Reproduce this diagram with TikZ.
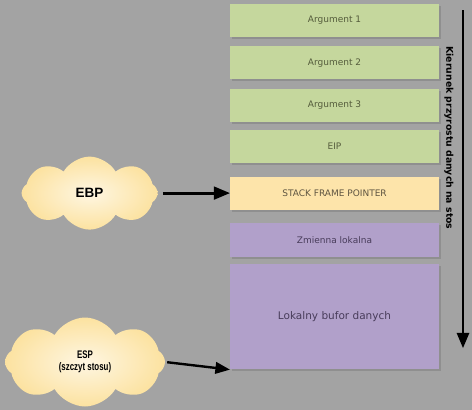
\documentclass[tikz,border=0pt]{standalone}
\usepackage{fontspec}
\newfontfamily\boxfont{DejaVu Sans}
\newfontfamily\cloudfont{Liberation Sans}
\newfontfamily\espfont[FakeStretch=0.72]{Liberation Sans}
\usetikzlibrary{positioning}
\usetikzlibrary{shapes,shadows}
\usetikzlibrary{arrows}
\definecolor{myBack}{RGB}{163,163,163}
\definecolor{myGreen}{RGB}{197,215,157}
\definecolor{myYellow}{RGB}{253,228,170}
\definecolor{myPurple}{RGB}{177,160,202}
\definecolor{myCloudIn}{RGB}{254,246,226}
\definecolor{myCloudOut}{RGB}{252,226,160}
\definecolor{myText1}{RGB}{85,92,60}
\definecolor{myText2}{RGB}{95,85,65}
\definecolor{myText3}{RGB}{72,60,90}

\begin{document}
\begin{tikzpicture}[x=1pt,y=-1pt,>=triangle 45,node distance=9pt,
  stack box/.style={rectangle,inner sep=0pt,minimum width=209pt,minimum height=33pt,
  font=\boxfont\fontsize{9}{11}\selectfont,
  drop shadow={shadow xshift=2pt,shadow yshift=-2pt,opacity=0.55}},
  green box/.style={stack box,fill=myGreen,text=myText1},
  yellow box/.style={stack box,fill=myYellow,text=myText2},
  purple box/.style={stack box,fill=myPurple,text=myText3},
  reg cloud/.style={cloud,cloud puffs=8,cloud puff arc=120,cloud ignores aspect,
  inner sep=0pt,shading=radial,inner color=myCloudIn,outer color=myCloudOut,align=center},
  pointer/.style={->,line width=2.8pt}]

\fill[myBack] (0,0) rectangle (472,410);
\useasboundingbox (0,0) rectangle (472,410);

% The stack
  \node[green box] (arg1) at (334.5,20.5) {Argument 1};
  \node[green box] (arg2) [below=of arg1] {Argument 2};
  \node[green box] (arg3) [below=of arg2] {Argument 3};
  \node[green box] (eip) [below=8pt of arg3] {EIP};
  \node[yellow box] (sfp) [below=13pt of eip] {STACK FRAME POINTER};
  \node[purple box,minimum height=34pt] (zmienna) [below=13pt of sfp] {Zmienna lokalna};
  \node[purple box,minimum height=105pt,font=\boxfont\fontsize{10.5}{12}\selectfont] (lok) [below=7pt of zmienna] {Lokalny bufor danych};

% The registers
  \node[reg cloud,minimum width=136pt,minimum height=73pt,font=\cloudfont\bfseries\fontsize{13.5}{15}\selectfont] (ebp) [left=72pt of sfp] {EBP};
  \node[reg cloud,minimum width=160pt,minimum height=89pt,font=\espfont\bfseries\fontsize{11}{12.5}\selectfont] (esp) at (85,362) {ESP\\(szczyt stosu)};

% Growth direction
  \coordinate (dirtop) at (463,10);
  \coordinate (dirbot) at (463,348);
  \node[rotate=-90,font=\boxfont\bfseries\fontsize{9.3}{11}\selectfont] (dir) at (449,138) {Kierunek przyrostu danych na stos};

% The arrows
  \draw[pointer,shorten <=5pt] (ebp) -- (sfp);
  \draw[pointer,line width=2.4pt,shorten <=2pt] (esp.east) -- (lok.south west);
  \draw[pointer,line width=2.6pt] (dirtop) -- (dirbot);

\end{tikzpicture}
\end{document}
